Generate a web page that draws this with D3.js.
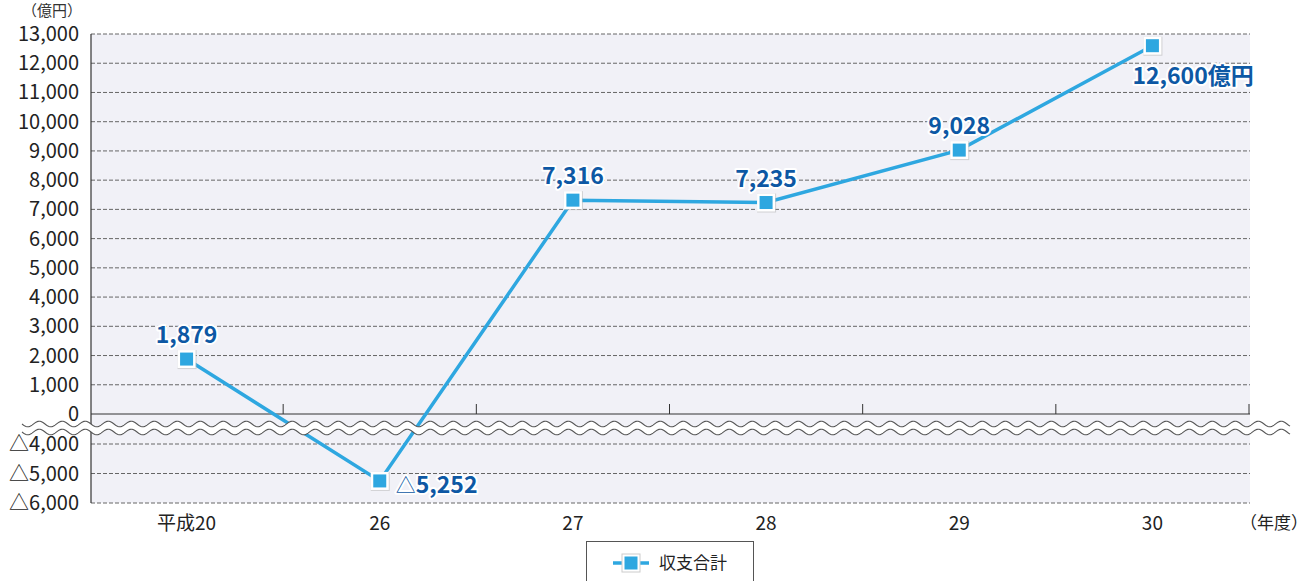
<!DOCTYPE html>
<html>
<head>
<meta charset="utf-8">
<script src="https://cdn.jsdelivr.net/npm/d3@7"></script>
<style>
  body { margin: 0; background: #fff; }
  svg text { font-family: "Noto Sans CJK JP", "Noto Sans", sans-serif; }
</style>
</head>
<body>
<svg id="chart" width="1311" height="581"></svg>
<script>
// data
var years = ['平成20', '26', '27', '28', '29', '30'];
var totals = [1879, -5252, 7316, 7235, 9028, 12600];
var pointLabels = ['1,879', '△5,252', '7,316', '7,235', '9,028', '12,600億円'];
var upperTicks = [0, 1000, 2000, 3000, 4000, 5000, 6000, 7000, 8000, 9000, 10000, 11000, 12000, 13000];
var lowerTicks = [-4000, -5000, -6000];

var svg = d3.select('#chart');
var plotL = 91, plotR = 1250, plotT = 34, plotB = 503;
var breakY = 428;

var x = d3.scaleBand().domain(years).range([plotL - 1, plotR - 1]);
var yTop = d3.scaleLinear().domain([0, 13000]).range([414, plotT]);
var yBot = d3.scaleLinear().domain([-6000, -4000]).range([plotB, 444]);
function y(v) { return v >= 0 ? yTop(v) : yBot(v); }

// plot background
svg.append('rect').attr('x', plotL).attr('y', plotT).attr('width', plotR - plotL).attr('height', plotB - plotT)
  .attr('fill', '#f1f1f7');

// grid lines
svg.selectAll('.grid').data(upperTicks.filter(d => d > 0).concat(lowerTicks)).enter().append('line')
  .attr('x1', plotL).attr('x2', plotR)
  .attr('y1', d => y(d)).attr('y2', d => y(d))
  .attr('stroke', '#666').attr('stroke-width', 1).attr('stroke-dasharray', '4,2');

// y tick labels
svg.selectAll('.ylab').data(upperTicks.concat(lowerTicks)).enter().append('text')
  .attr('x', 79).attr('y', d => y(d) + 7)
  .attr('text-anchor', 'end').attr('font-size', 20).attr('fill', '#222')
  .text(d => d < 0 ? '△' + d3.format(',')(-d) : d3.format(',')(d));

svg.append('text').attr('x', 52).attr('y', 16).attr('text-anchor', 'middle')
  .attr('font-size', 15).attr('fill', '#333').text('（億円）');

// zero line and category ticks
svg.append('line').attr('x1', plotL).attr('x2', plotR).attr('y1', yTop(0)).attr('y2', yTop(0))
  .attr('stroke', '#333').attr('stroke-width', 1);
svg.selectAll('.xt').data(years).enter().append('line')
  .attr('x1', d => x(d) + x.bandwidth()).attr('x2', d => x(d) + x.bandwidth())
  .attr('y1', yTop(0)).attr('y2', yTop(0) - 10)
  .attr('stroke', '#333');

// y axis line
svg.append('line').attr('x1', plotL).attr('x2', plotL).attr('y1', plotT).attr('y2', plotB)
  .attr('stroke', '#333').attr('stroke-width', 1.2);

// x labels
svg.selectAll('.xlab').data(years).enter().append('text')
  .attr('x', d => x(d) + x.bandwidth() / 2).attr('y', 530)
  .attr('text-anchor', 'middle').attr('font-size', 19).attr('fill', '#222')
  .text(d => d);
svg.append('text').attr('x', 1274).attr('y', 529).attr('text-anchor', 'middle')
  .attr('font-size', 17).attr('fill', '#222').text('（年度）');

// line
var line = d3.line().x((d, i) => x(years[i]) + x.bandwidth() / 2).y(d => y(d));
svg.append('path').datum(totals).attr('d', line)
  .attr('fill', 'none').attr('stroke', '#2ea7e0').attr('stroke-width', 3.5);

// wavy break band
function wave(y0) {
  var pts = [];
  for (var px = 22; px <= 1290; px += 1) {
    pts.push([px, y0 + 2.8 * Math.sin((px - 22) / 23 * 2 * Math.PI)]);
  }
  return pts;
}
var w1 = wave(breakY - 4), w2 = wave(breakY + 4);
svg.append('path')
  .attr('d', d3.line()(w1.concat(w2.slice().reverse())) + 'Z')
  .attr('fill', '#fff');
svg.append('path').attr('d', d3.line()(w1)).attr('fill', 'none').attr('stroke', '#555').attr('stroke-width', 1.1);
svg.append('path').attr('d', d3.line()(w2)).attr('fill', 'none').attr('stroke', '#555').attr('stroke-width', 1.1);

// markers
var pts = svg.selectAll('.pt').data(totals).enter().append('g')
  .attr('transform', (d, i) => 'translate(' + (x(years[i]) + x.bandwidth() / 2) + ',' + y(d) + ')');
pts.append('rect').attr('x', -9).attr('y', -9).attr('width', 19).attr('height', 19)
  .attr('fill', '#bbb').attr('opacity', 0.6);
pts.append('rect').attr('x', -9).attr('y', -9).attr('width', 18).attr('height', 18)
  .attr('fill', '#fff');
pts.append('rect').attr('x', -6.5).attr('y', -6.5).attr('width', 13).attr('height', 13)
  .attr('fill', '#2ea7e0');

// point labels
var offsets = [[0, -16], [16, 12], [0, -16], [0, -16], [0, -16], [-20, 38]];
var anchors = ['middle', 'start', 'middle', 'middle', 'middle', 'start'];
totals.forEach(function (d, i) {
  var cx = x(years[i]) + x.bandwidth() / 2, cy = y(d);
  var t = svg.append('text')
    .attr('x', cx + offsets[i][0]).attr('y', cy + offsets[i][1])
    .attr('text-anchor', anchors[i]).attr('font-size', 23).attr('font-weight', 'bold')
    .attr('fill', '#0d58a4').attr('stroke', '#fff').attr('stroke-width', 4)
    .attr('paint-order', 'stroke').attr('stroke-linejoin', 'round');
  if (i === 1) {
    t.append('tspan').attr('font-weight', 'normal').attr('font-size', 20).text('△');
    t.append('tspan').text('5,252');
  } else {
    t.text(pointLabels[i]);
  }
});

// legend
var lg = svg.append('g').attr('transform', 'translate(586,541)');
lg.append('rect').attr('x', 0.5).attr('y', 0.5).attr('width', 167).attr('height', 50)
  .attr('fill', '#fff').attr('stroke', '#555');
lg.append('line').attr('x1', 27).attr('x2', 63).attr('y1', 22).attr('y2', 22)
  .attr('stroke', '#2ea7e0').attr('stroke-width', 3.5);
lg.append('rect').attr('x', 36).attr('y', 13).attr('width', 18).attr('height', 18).attr('fill', '#fff')
  .attr('stroke', '#ccc');
lg.append('rect').attr('x', 38.5).attr('y', 15.5).attr('width', 13).attr('height', 13).attr('fill', '#2ea7e0');
lg.append('text').attr('x', 73).attr('y', 28).attr('font-size', 17).attr('fill', '#222').text('収支合計');
</script>
</body>
</html>
